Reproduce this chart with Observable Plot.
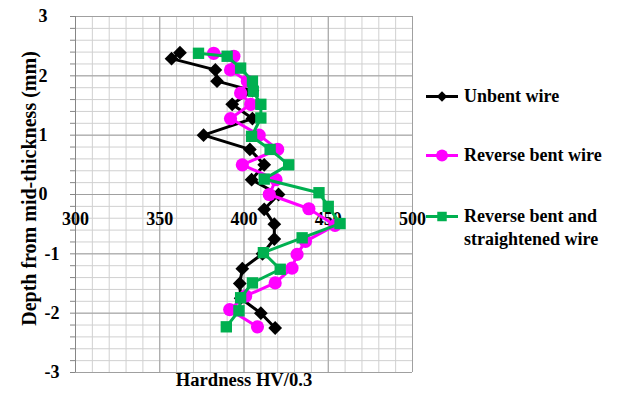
<!DOCTYPE html>
<html>
<head>
<meta charset="utf-8">
<script src="https://cdn.jsdelivr.net/npm/d3@7"></script>
<script src="https://cdn.jsdelivr.net/npm/@observablehq/plot@0.6"></script>
<style>
  body { margin: 0; background: #fff; }
  #wrap { position: relative; width: 618px; height: 399px; font-family: "Liberation Serif", "Times New Roman", serif; }
  #legend { position: absolute; left: 420px; top: 0; width: 198px; height: 399px; }
  .entry { position: absolute; left: 6px; display: flex; align-items: flex-start; }
  .entry svg { flex: none; }
  .entry span { font-weight: bold; font-size: 18px; line-height: 23px; color: #000; margin-left: 4px; }
</style>
</head>
<body>
<div id="wrap"><div id="chart"></div><div id="legend"></div></div>
<script>
// ---- data ----
const seriesNames = ["Unbent wire", "Reverse bent wire", "Reverse bent and straightened wire"];
const seriesColors = ["#000000", "#FF00FF", "#00B050"];

const depthUnbent = [2.39, 2.29, 2.1, 1.91, 1.75, 1.52, 1.28, 1.0, 0.76, 0.5, 0.25, 0, -0.25, -0.5, -0.75, -1.0, -1.25, -1.5, -1.75, -2.0, -2.25];
const hvUnbent    = [362, 357, 383, 384, 405, 393, 405, 376, 403.5, 412, 404.5, 420.5, 412, 418, 418, 411, 399, 397.5, 398, 410, 418.5];

const depthReverse = [2.38, 2.33, 2.1, 1.91, 1.71, 1.52, 1.28, 1.0, 0.76, 0.5, 0.25, 0, -0.24, -0.52, -0.79, -1.01, -1.24, -1.49, -1.71, -1.94, -2.23];
const hvReverse    = [382, 394, 392, 402, 398, 404, 392, 409, 420, 399, 419, 415, 438.5, 454, 436.5, 431.5, 428.5, 418.5, 401, 391.5, 408];

const depthStraight = [2.38, 2.33, 2.13, 1.91, 1.74, 1.52, 1.29, 0.98, 0.76, 0.5, 0.26, 0.03, -0.2, -0.49, -0.73, -0.98, -1.26, -1.49, -1.74, -1.96, -2.23];
const hvStraight    = [373, 390, 398, 405, 405.5, 410, 410, 404.5, 415.5, 426.5, 412, 444.5, 450, 457, 434.5, 411.5, 421.5, 405, 398, 397, 389.5];

const xTicks = [300, 350, 400, 450, 500];
const yTicks = [-3, -2, -1, 0, 1, 2, 3];
const xMinor = d3.range(300, 501, 10);
const yMinor = d3.range(-15, 16).map(i => i / 5);

const xTitle = "Hardness HV/0.3";
const yTitle = "Depth from mid-thickness (mm)";

// ---- build ----
const toRows = (hv, depth) => hv.map((v, i) => ({hv: v, depth: depth[i]}));
const rowsU = toRows(hvUnbent, depthUnbent);
const rowsR = toRows(hvReverse, depthReverse);
const rowsS = toRows(hvStraight, depthStraight);

const font = "Liberation Serif";
const txt = {fontFamily: font, fontWeight: "bold", fontSize: 18, fill: "#000"};

const chart = Plot.plot({
  width: 618,
  height: 399,
  marginLeft: 75,
  marginRight: 206,
  marginTop: 16,
  marginBottom: 27,
  x: {domain: [300, 500], axis: null},
  y: {domain: [-3, 3], axis: null},
  style: {fontFamily: font, background: "#fff"},
  marks: [
    Plot.gridX(xMinor, {stroke: "#d0d0d0", strokeOpacity: 1, strokeWidth: 1}),
    Plot.gridY(yMinor, {stroke: "#d0d0d0", strokeOpacity: 1, strokeWidth: 1}),
    Plot.gridX(xTicks, {stroke: "#a0a0a0", strokeOpacity: 1, strokeWidth: 1}),
    Plot.gridY(yTicks, {stroke: "#a0a0a0", strokeOpacity: 1, strokeWidth: 1}),
    Plot.axisY({ticks: yMinor, tickSize: 5, tickFormat: () => "", label: null, stroke: "#868686", strokeOpacity: 1}),
    Plot.ruleX([300], {stroke: "#868686", strokeWidth: 1}),
    // y tick labels
    Plot.text(yTicks.filter(d => d >= 0), {y: d => d, frameAnchor: "left", dx: -28, textAnchor: "end", text: d => String(d), ...txt}),
    Plot.text(yTicks.filter(d => d < 0), {y: d => d, frameAnchor: "left", dx: -16, textAnchor: "end", text: d => String(d), ...txt}),
    // x tick labels along the zero line
    Plot.text(xTicks, {x: d => d, y: () => 0, dy: 25, text: d => String(d), ...txt}),
    // titles
    Plot.text([yTitle], {frameAnchor: "left", dx: -46, dy: -6, rotate: -90, textAnchor: "middle", text: d => d, ...txt, fontSize: 20}),
    Plot.text([xTitle], {frameAnchor: "bottom", dy: 13, textAnchor: "middle", text: d => d, ...txt, fontSize: 18.6}),
    // series
    Plot.line(rowsU, {x: "hv", y: "depth", stroke: seriesColors[0], strokeWidth: 3, curve: "linear"}),
    Plot.dot(rowsU, {x: "hv", y: "depth", symbol: "diamond2", r: 6.2, fill: seriesColors[0], stroke: "none"}),
    Plot.line(rowsR, {x: "hv", y: "depth", stroke: seriesColors[1], strokeWidth: 3, curve: "linear"}),
    Plot.dot(rowsR, {x: "hv", y: "depth", symbol: "circle", r: 6.6, fill: seriesColors[1], stroke: "none"}),
    Plot.line(rowsS, {x: "hv", y: "depth", stroke: seriesColors[2], strokeWidth: 3, curve: "linear"}),
    Plot.dot(rowsS, {x: "hv", y: "depth", symbol: "square", r: 6.4, fill: seriesColors[2], stroke: "none"})
  ]
});
document.getElementById("chart").appendChild(chart);

// ---- legend ----
const legend = document.getElementById("legend");
const legendTops = [85, 144, 205];
const symbolsL = [d3.symbolDiamond2, d3.symbolCircle, d3.symbolSquare];
const sizesL = [70, 110, 90];
seriesNames.forEach((name, i) => {
  const div = document.createElement("div");
  div.className = "entry";
  div.style.top = legendTops[i] + "px";
  const s = d3.create("svg").attr("width", 34).attr("height", 23);
  s.append("line").attr("x1", 0).attr("x2", 32).attr("y1", 11.5).attr("y2", 11.5)
    .attr("stroke", seriesColors[i]).attr("stroke-width", 3);
  s.append("path").attr("d", d3.symbol(symbolsL[i], sizesL[i])())
    .attr("transform", "translate(16,11.5)").attr("fill", seriesColors[i]);
  div.appendChild(s.node());
  const span = document.createElement("span");
  span.innerHTML = name === seriesNames[2] ? "Reverse bent and<br>straightened wire" : name;
  div.appendChild(span);
  legend.appendChild(div);
});
</script>
</body>
</html>
